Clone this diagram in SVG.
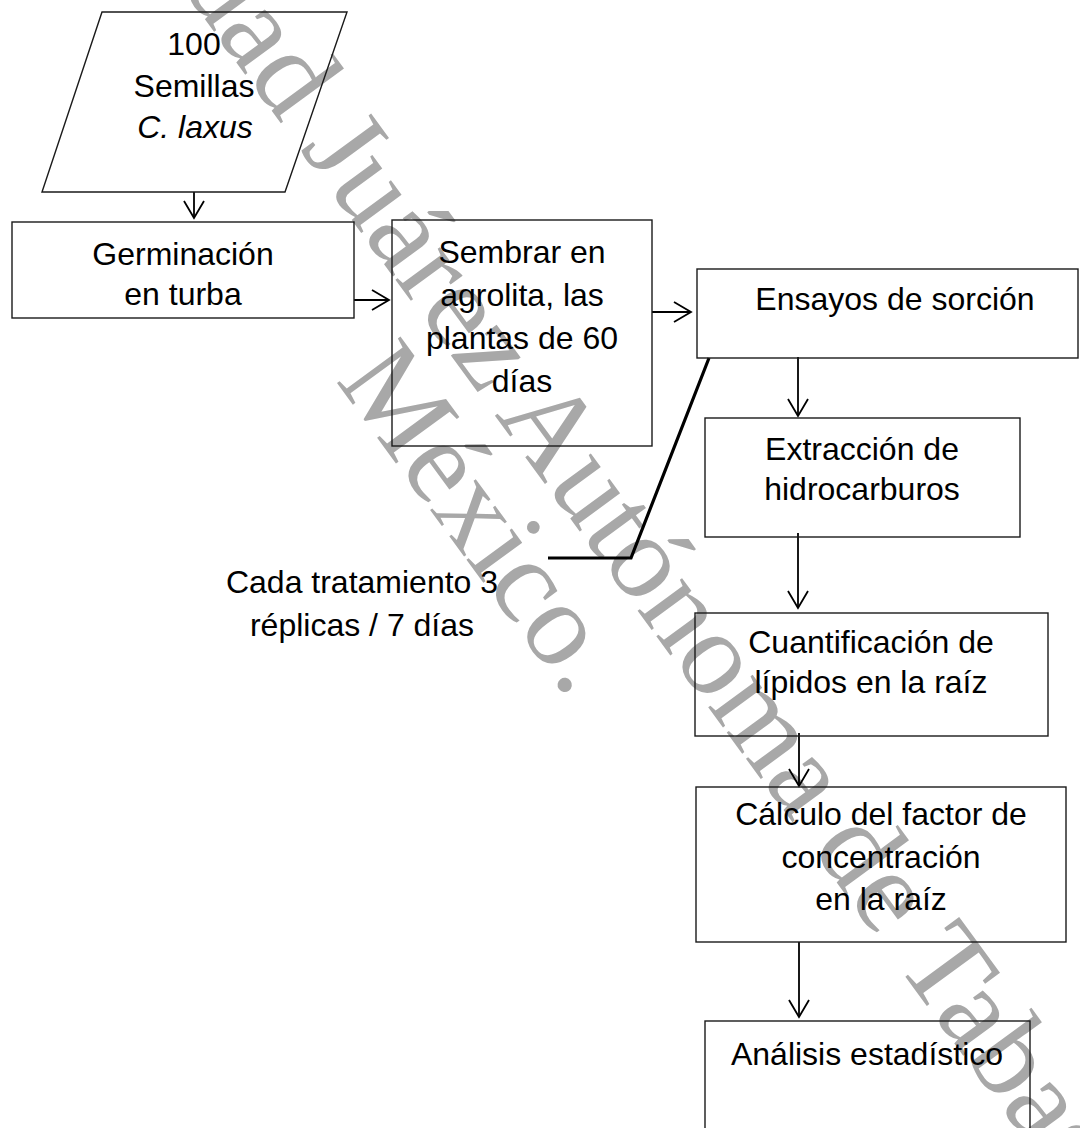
<svg xmlns="http://www.w3.org/2000/svg" width="1080" height="1128" viewBox="0 0 1080 1128">
  <defs>
    <style>
      .box { fill: none; stroke: #1a1a1a; stroke-width: 1.4; }
      .lbl { font-family: "Liberation Sans", Arial, sans-serif; font-size: 32px; fill: #000; text-anchor: middle; }
      .wm { font-family: "Liberation Serif", "Times New Roman", serif; font-size: 120px; fill: #a8a8a8; text-anchor: middle; }
      .conn { fill: none; stroke: #000; stroke-width: 1.8; }
      .callout { fill: none; stroke: #000; stroke-width: 3.2; stroke-linejoin: miter; }
    </style>
    <marker id="arr" markerUnits="userSpaceOnUse" viewBox="0 0 20 22" refX="18" refY="11" markerWidth="20" markerHeight="22" orient="auto">
      <path d="M1,1 L18,11 L1,21" fill="none" stroke="#000" stroke-width="1.8"/>
    </marker>
  </defs>
  <rect x="0" y="0" width="1080" height="1128" fill="#fff"/>

  <g id="watermark" transform="translate(-56,-337) rotate(53.8)">
    <text class="wm" x="1008" y="0">Universidad Juárez Autónoma de Tabasco.</text>
    <text class="wm" x="1008" y="108">México.</text>
  </g>

  <g id="connectors">
    <line class="conn" x1="194" y1="192" x2="194" y2="218" marker-end="url(#arr)"/>
    <line class="conn" x1="354" y1="300" x2="389" y2="300" marker-end="url(#arr)"/>
    <line class="conn" x1="652" y1="312" x2="691" y2="312" marker-end="url(#arr)"/>
    <line class="conn" x1="798" y1="357" x2="798" y2="416" marker-end="url(#arr)"/>
    <line class="conn" x1="798" y1="533" x2="798" y2="608" marker-end="url(#arr)"/>
    <line class="conn" x1="799" y1="733" x2="799" y2="786" marker-end="url(#arr)"/>
    <line class="conn" x1="799" y1="942" x2="799" y2="1017" marker-end="url(#arr)"/>
    <polyline class="callout" points="709,358 631,558 548,558"/>
  </g>

  <g id="n-semillas">
    <polygon class="box" points="102,12 347,12 285,192 42,192"/>
    <text class="lbl" x="194" y="55">100</text>
    <text class="lbl" x="194" y="97">Semillas</text>
    <text class="lbl" x="195" y="138" font-style="italic">C. laxus</text>
  </g>

  <g id="n-germinacion">
    <rect class="box" x="12" y="222" width="342" height="96"/>
    <text class="lbl" x="183" y="265">Germinación</text>
    <text class="lbl" x="183" y="305">en turba</text>
  </g>

  <g id="n-sembrar">
    <rect class="box" x="392" y="220" width="260" height="226"/>
    <text class="lbl" x="522" y="263">Sembrar en</text>
    <text class="lbl" x="522" y="306">agrolita, las</text>
    <text class="lbl" x="522" y="349">plantas de 60</text>
    <text class="lbl" x="522" y="392">días</text>
  </g>

  <g id="n-ensayos">
    <rect class="box" x="697" y="269" width="381" height="89"/>
    <text class="lbl" x="895" y="310">Ensayos de sorción</text>
  </g>

  <g id="n-extraccion">
    <rect class="box" x="705" y="418" width="315" height="119"/>
    <text class="lbl" x="862" y="460">Extracción de</text>
    <text class="lbl" x="862" y="500">hidrocarburos</text>
  </g>

  <g id="n-cuantificacion">
    <rect class="box" x="695" y="613" width="353" height="123"/>
    <text class="lbl" x="871" y="653">Cuantificación de</text>
    <text class="lbl" x="871" y="693">lípidos en la raíz</text>
  </g>

  <g id="n-calculo">
    <rect class="box" x="696" y="787" width="370" height="155"/>
    <text class="lbl" x="881" y="825">Cálculo del factor de</text>
    <text class="lbl" x="881" y="868">concentración</text>
    <text class="lbl" x="881" y="910">en la raíz</text>
  </g>

  <g id="n-analisis">
    <rect class="box" x="705" y="1021" width="325" height="130"/>
    <text class="lbl" x="867" y="1065">Análisis estadístico</text>
  </g>

  <g id="n-nota">
    <text class="lbl" x="362" y="593">Cada tratamiento 3</text>
    <text class="lbl" x="362" y="636">réplicas / 7 días</text>
  </g>
</svg>
